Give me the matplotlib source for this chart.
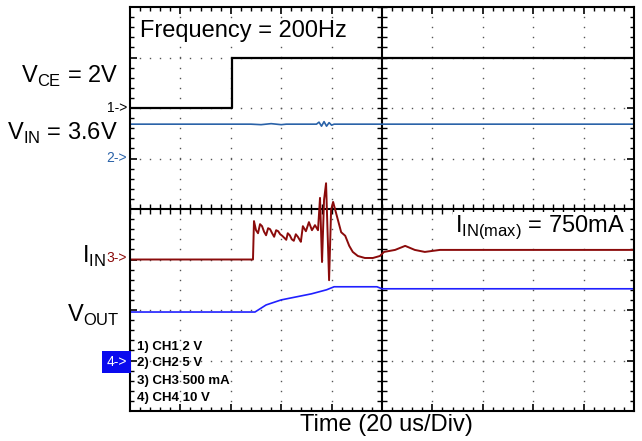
import numpy as np
import matplotlib.pyplot as plt

plt.rcParams['font.family'] = 'Liberation Sans'
plt.rcParams['mathtext.fontset'] = 'custom'
plt.rcParams['mathtext.rm'] = 'Liberation Sans'

# ---- scope traces, in screen divisions (10 x 8) ----
ch1_t = [0, 2.02, 2.02, 10]
ch1_v = [6.0, 6.0, 7.0, 7.0]

ch2_t = [0, 2.4, 2.6, 2.8, 3.0, 3.1, 3.7, 3.75, 3.8, 3.85, 3.9, 3.95, 4.0, 4.05, 10]
ch2_v = [5.68, 5.68, 5.67, 5.69, 5.67, 5.68, 5.68, 5.72, 5.64, 5.73, 5.64, 5.71, 5.66, 5.68, 5.68]

ch3_t = [0, 2.44, 2.46, 2.50, 2.54, 2.58, 2.62, 2.66, 2.70, 2.74, 2.78, 2.82, 2.86, 2.90,
         2.94, 2.98, 3.02, 3.06, 3.10, 3.13, 3.17, 3.21, 3.25, 3.29, 3.33, 3.36,
         3.39, 3.43, 3.49, 3.55, 3.61, 3.67, 3.73, 3.77, 3.81, 3.85, 3.89, 3.95, 3.99, 4.03,
         4.11, 4.19, 4.27, 4.35, 4.42, 4.52, 4.66, 4.82, 4.96, 5.04, 5.26, 5.46, 5.65, 5.85,
         6.15, 10]
ch3_v = [3.0, 3.0, 3.76, 3.58, 3.52, 3.70, 3.66, 3.55, 3.48, 3.62, 3.60, 3.52, 3.45, 3.58,
         3.56, 3.50, 3.47, 3.43, 3.39, 3.52, 3.48, 3.40, 3.37, 3.50, 3.45, 3.40,
         3.35, 3.66, 3.56, 3.74, 3.58, 3.68, 3.58, 4.22, 2.95, 4.18, 4.51, 2.59, 3.98, 4.14,
         3.84, 3.54, 3.47, 3.27, 3.15, 3.07, 3.03, 3.03, 3.07, 3.15, 3.19, 3.27, 3.19, 3.15,
         3.19, 3.19]

ch4_t = [0, 2.48, 2.7, 3.0, 3.3, 3.6, 3.9, 4.05, 4.9, 5.0, 10]
ch4_v = [1.96, 1.96, 2.10, 2.20, 2.26, 2.32, 2.40, 2.46, 2.46, 2.42, 2.42]

channels = ['1) CH1 2 V', '2) CH2 5 V', '3) CH3 500 mA', '4) CH4 10 V']

c1, c2, c3, c4 = 'black', '#2a62a8', '#8b0b0b', '#2020ff'

fig = plt.figure(figsize=(6.42, 4.41), dpi=100)
ax = fig.add_axes([130/642, 30/441, 504/642, 404/441])
ax.set_xlim(0, 10)
ax.set_ylim(0, 8)

# graticule: dotted grid + centre cross with ticks
gx, gy = np.meshgrid(np.arange(1, 10), np.arange(0.2, 8, 0.2))
ax.plot(gx.ravel(), gy.ravel(), ls='none', marker='s', ms=1.0, mew=0, color='#555555')
gx, gy = np.meshgrid(np.arange(0.2, 10, 0.2), np.arange(1, 8))
ax.plot(gx.ravel(), gy.ravel(), ls='none', marker='s', ms=1.0, mew=0, color='#555555')
ax.axhline(4, color='black', lw=1.5)
ax.axvline(5, color='black', lw=1.5)
ax.vlines(np.arange(0, 10.01, 0.2), 3.9, 4.1, color='black', lw=1)
ax.hlines(np.arange(0, 8.01, 0.2), 4.9, 5.1, color='black', lw=1)

ax.set_xticks(np.arange(0, 11, 1))
ax.set_yticks(np.arange(0, 9, 1))
ax.set_xticks(np.arange(0, 10.01, 0.2), minor=True)
ax.set_yticks(np.arange(0, 8.01, 0.2), minor=True)
ax.tick_params(which='both', direction='in', top=True, right=True,
               labelbottom=False, labelleft=False, color='black')
ax.tick_params(which='major', length=5, width=1.2)
ax.tick_params(which='minor', length=3, width=1)
for s in ax.spines.values():
    s.set_linewidth(1.5)

# traces
ax.plot(ch1_t, ch1_v, color=c1, lw=1.6)
ax.plot(ch2_t, ch2_v, color=c2, lw=1.2)
ax.plot(ch3_t, ch3_v, color=c3, lw=1.4)
ax.plot(ch4_t, ch4_v, color=c4, lw=1.2)

# annotations
ax.text(0.2, 7.40, 'Frequency = 200Hz', fontsize=17, va='baseline', ha='left',
        bbox=dict(facecolor='white', edgecolor='none', pad=1))
ax.text(9.82, 3.54, r'I$_\mathregular{IN(max)}$ = 750mA', fontsize=17, va='baseline', ha='right',
        bbox=dict(facecolor='white', edgecolor='none', pad=1))
ax.text(5.08, -0.40, 'Time (20 us/Div)', fontsize=17, va='baseline', ha='center')

ax.text(-0.24, 6.50, r'V$_\mathregular{CE}$ = 2V', fontsize=17, va='baseline', ha='right')
ax.text(-0.24, 5.37, r'V$_\mathregular{IN}$ = 3.6V', fontsize=17, va='baseline', ha='right')
ax.text(-0.48, 2.93, r'I$_\mathregular{IN}$', fontsize=17, va='baseline', ha='right')
ax.text(-0.20, 1.76, r'V$_\mathregular{OUT}$', fontsize=17, va='baseline', ha='right')

ax.text(-0.06, 6.0, '1->', fontsize=10, color=c1, va='center', ha='right')
ax.text(-0.06, 5.0, '2->', fontsize=10, color=c2, va='center', ha='right')
ax.text(-0.06, 3.03, '3->', fontsize=10, color=c3, va='center', ha='right')
ax.text(-0.06, 0.97, '4->', fontsize=10, color='white', va='center', ha='right',
        bbox=dict(facecolor='#0a0aee', edgecolor='none', boxstyle='square,pad=0.3'))

for lbl, yy in zip(channels, [1.27, 0.95, 0.59, 0.26]):
    ax.text(0.14, yy, lbl, fontsize=9.5, fontweight='bold', va='center', ha='left')

fig.savefig('out.png', dpi=100)
